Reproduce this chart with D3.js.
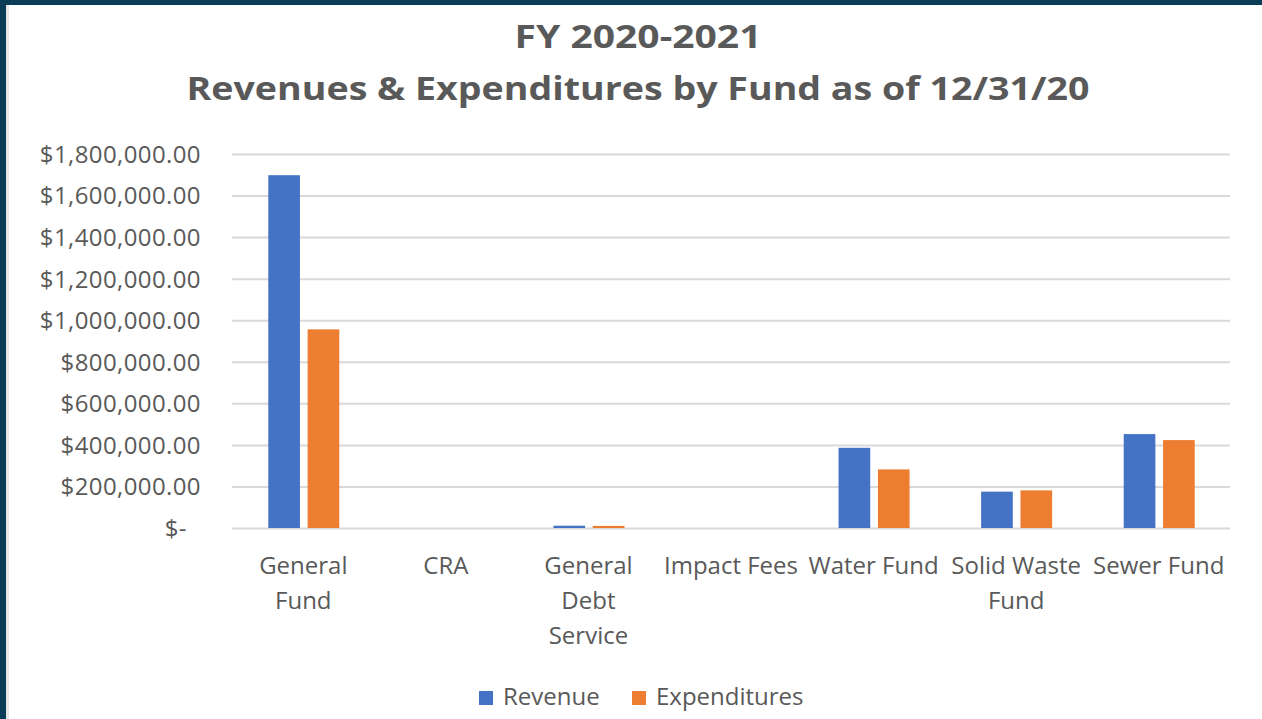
<!DOCTYPE html>
<html>
<head>
<meta charset="utf-8">
<script src="https://cdn.jsdelivr.net/npm/d3@7"></script>
<style>
  html, body { margin: 0; padding: 0; background: #ffffff; }
  svg { display: block; }
</style>
</head>
<body>
<svg id="chart" width="1262" height="719"></svg>
<script>
// ---- data ----
const titleLines = ["FY 2020-2021", "Revenues & Expenditures by Fund as of 12/31/20"];
const categories = ["General Fund", "CRA", "General Debt Service", "Impact Fees", "Water Fund", "Solid Waste Fund", "Sewer Fund"];
const categoryLabelLines = [["General", "Fund"], ["CRA"], ["General", "Debt", "Service"], ["Impact Fees"], ["Water Fund"], ["Solid Waste", "Fund"], ["Sewer Fund"]];
const seriesNames = ["Revenue", "Expenditures"];
const revenue = [1698000, 0, 11000, 0, 386000, 175000, 452000];
const expenditures = [956000, 0, 10000, 0, 282000, 181000, 423000];
const yTicks = [0, 200000, 400000, 600000, 800000, 1000000, 1200000, 1400000, 1600000, 1800000];
const colors = ["#4472C4", "#ED7D31"];

// ---- layout ----
const svg = d3.select("#chart");
const W = 1262, H = 719;
const plot = { left: 232, right: 1230, top: 154, bottom: 528 };
const textColor = "#595959";
const font = "'Open Sans', 'Noto Sans', sans-serif";

// frame
svg.append("rect").attr("x", 0).attr("y", 0).attr("width", W).attr("height", H).attr("fill", "#ffffff");
svg.append("rect").attr("x", 0).attr("y", 0).attr("width", W).attr("height", 5).attr("fill", "#0B3C57");
svg.append("rect").attr("x", 0).attr("y", 0).attr("width", 6).attr("height", H).attr("fill", "#0B3C57");
svg.append("rect").attr("x", 6).attr("y", 5).attr("width", 3).attr("height", H - 5).attr("fill", "#E6E6E6");

// scales
const x = d3.scaleBand().domain(categories).range([plot.left, plot.right]).paddingInner(0).paddingOuter(0);
const y = d3.scaleLinear().domain([0, 1800000]).range([plot.bottom, plot.top]);
const bw = x.bandwidth();
const barW = bw * 0.222;
const innerGap = bw * 0.054;
const sub = d3.scaleOrdinal().domain(seriesNames).range([
  bw / 2 - innerGap / 2 - barW + 0.5,
  bw / 2 + innerGap / 2 + 0.5
]);

// title
svg.selectAll("text.title").data(titleLines).join("text")
  .attr("class", "title")
  .attr("x", 638)
  .attr("y", (d, i) => i === 0 ? 48 : 100)
  .attr("text-anchor", "middle")
  .attr("font-family", font)
  .attr("font-weight", "bold")
  .attr("font-size", 32)
  .attr("fill", textColor)
  .attr("textLength", (d, i) => i === 0 ? 247 : 903)
  .attr("lengthAdjust", "spacingAndGlyphs")
  .text(d => d);

// gridlines + y tick labels
const yAxis = d3.axisLeft(y).tickValues(yTicks).tickSize(-(plot.right - plot.left)).tickPadding(31)
  .tickFormat(d => d === 0 ? "$-" : "$" + d3.format(",.2f")(d));
const gy = svg.append("g").attr("transform", `translate(${plot.left},0)`).call(yAxis);
gy.select(".domain").remove();
gy.selectAll(".tick line").attr("stroke", "#D9D9D9").attr("stroke-width", 2);
gy.selectAll(".tick text")
  .attr("font-family", font)
  .attr("font-size", 24)
  .attr("letter-spacing", "0.4px")
  .attr("fill", textColor)
  .attr("dy", "0.35em")
  .attr("dx", d => d === 0 ? -14 : 0);

// bars
const seriesData = [revenue, expenditures];
const groups = svg.append("g").selectAll("g").data(seriesNames).join("g")
  .attr("fill", (d, i) => colors[i]);
groups.selectAll("rect")
  .data((s, si) => categories.map((c, ci) => ({ c, s, v: seriesData[si][ci] })))
  .join("rect")
  .attr("x", d => x(d.c) + sub(d.s))
  .attr("y", d => y(d.v))
  .attr("width", barW)
  .attr("height", d => Math.max(0, y(0) - y(d.v)));

// category labels
const xAxis = d3.axisBottom(x).tickSize(0).tickFormat("");
const gx = svg.append("g").attr("transform", `translate(0,${plot.bottom})`).call(xAxis);
gx.select(".domain").remove();
gx.selectAll(".tick").each(function (d, i) {
  const t = d3.select(this).append("text")
    .attr("font-family", font)
    .attr("font-size", 24)
    .attr("fill", textColor)
    .attr("text-anchor", "middle");
  categoryLabelLines[i].forEach((line, li) => {
    t.append("tspan").attr("x", 0).attr("y", 46 + li * 35).text(line);
  });
});

// legend
const legendItems = [
  { name: seriesNames[0], color: colors[0], sx: 479, tx: 503 },
  { name: seriesNames[1], color: colors[1], sx: 632, tx: 656 }
];
const lg = svg.append("g");
lg.selectAll("rect").data(legendItems).join("rect")
  .attr("x", d => d.sx).attr("y", 691).attr("width", 14).attr("height", 14)
  .attr("fill", d => d.color);
lg.selectAll("text").data(legendItems).join("text")
  .attr("x", d => d.tx).attr("y", 705)
  .attr("font-family", font).attr("font-size", 24).attr("fill", textColor)
  .text(d => d.name);
</script>
</body>
</html>
